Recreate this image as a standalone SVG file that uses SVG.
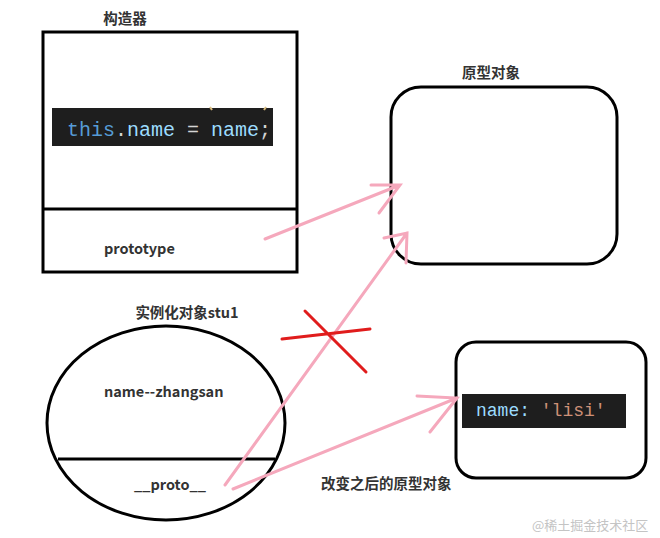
<svg xmlns="http://www.w3.org/2000/svg" width="660" height="538" viewBox="0 0 660 538">
<style>
.lbl{font-family:"Noto Sans CJK SC","Liberation Sans",sans-serif;font-weight:bold;font-size:14.5px;fill:#333}
.shape{fill:none;stroke:#000;stroke-width:3}
.code{font-family:"Liberation Mono","DejaVu Sans Mono",monospace}
.pink{fill:none;stroke:#f5a8bc;stroke-width:3;stroke-linecap:round}
.red{fill:none;stroke:#e01c1c;stroke-width:3;stroke-linecap:round}
</style>
<rect width="660" height="538" fill="#fff"/>
<g id="constructor">
<text class="lbl" x="125" y="24" text-anchor="middle">构造器</text>
<rect class="shape" x="43" y="32" width="254" height="240"/>
<line class="shape" x1="43" y1="209" x2="297" y2="209"/>
<rect x="52" y="108" width="221" height="38" fill="#1e1e1e"/>
<line x1="210" y1="107" x2="212" y2="110" stroke="#d7ba7d" stroke-width="2"/>
<line x1="266" y1="107" x2="264" y2="110" stroke="#d7ba7d" stroke-width="2"/>
<text class="code" x="67" y="136" font-size="20"><tspan fill="#569cd6">this</tspan><tspan fill="#d4d4d4">.</tspan><tspan fill="#9cdcfe">name</tspan><tspan fill="#d4d4d4"> = </tspan><tspan fill="#9cdcfe">name</tspan><tspan fill="#d4d4d4">;</tspan></text>
<text class="lbl" x="104" y="254">prototype</text>
</g>
<g id="prototype-object">
<text class="lbl" x="491" y="78" text-anchor="middle">原型对象</text>
<rect class="shape" x="391" y="87" width="226" height="177" rx="30" ry="30"/>
</g>
<g id="instance">
<text class="lbl" x="187" y="318" text-anchor="middle">实例化对象stu1</text>
<ellipse class="shape" cx="166" cy="423" rx="119" ry="97"/>
<line class="shape" x1="58" y1="459" x2="275" y2="459"/>
<text class="lbl" x="104" y="397">name--zhangsan</text>
<text class="lbl" x="134" y="490">__proto__</text>
</g>
<g id="new-prototype">
<rect class="shape" x="456" y="342" width="190" height="136" rx="20" ry="20"/>
<rect x="462" y="394" width="164" height="34" fill="#1e1e1e"/>
<text class="code" x="476" y="416" font-size="18"><tspan fill="#9cdcfe">name:</tspan><tspan fill="#ce9178"> 'lisi'</tspan></text>
<text class="lbl" x="321" y="489">改变之后的原型对象</text>
</g>
<g id="connectors">
<path class="pink" d="M265,239 L400,185 M371,185 L400,185 L379,213"/>
<path class="pink" d="M225,485 L407,233 M384,238 L407,233 L406,263"/>
<path class="pink" d="M233,489 L457,398 M417,396 L457,398 L430,432"/>
<path class="red" d="M282,339 L370,329 M305,311 L366,372"/>
</g>
<text x="532" y="530" font-family="Noto Sans CJK SC,sans-serif" font-size="13" fill="#c4c4c4">@稀土掘金技术社区</text>
</svg>
